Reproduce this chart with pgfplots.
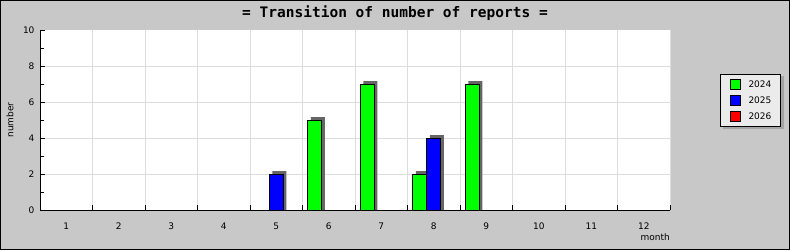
\documentclass[border=0pt]{standalone}
\usepackage{pgfplots}
\pgfplotsset{compat=1.18}
\usepackage{fontspec}
\setmainfont{DejaVu Sans}
\newfontfamily\titlefont{DejaVu Sans Mono}
\definecolor{bggray}{RGB}{200,200,200}
\definecolor{gridgray}{RGB}{221,221,221}
\definecolor{shadowgray}{RGB}{102,102,102}
\definecolor{leggray}{RGB}{235,235,235}
\definecolor{legshadow}{RGB}{165,165,165}
\definecolor{c24}{RGB}{0,255,0}
\definecolor{c25}{RGB}{0,0,255}
\definecolor{c26}{RGB}{255,0,0}
\pgfplotsset{sqleg/.style={legend image code/.code={\draw[##1] (0pt,-5pt) rectangle (10pt,5pt);}}}
\begin{document}
\begin{tikzpicture}
\fill[bggray] (0pt,0pt) rectangle (790pt,250pt);
\draw[black,line width=1pt] (0.5pt,0.5pt) rectangle (789.5pt,249.5pt);
\useasboundingbox (0pt,0pt) rectangle (790pt,250pt);
% legend shadow
\fill[legshadow] (722.5pt,121pt) rectangle (783.5pt,174pt);
\node[font=\titlefont\bfseries\fontsize{14.5}{16}\selectfont] at (395pt,237pt) {= Transition of number of reports =};
\begin{axis}[
  at={(40pt,40pt)}, anchor=south west,
  scale only axis, width=630pt, height=180pt,
  xmin=0.5, xmax=12.5, ymin=0, ymax=10,
  axis lines=left, axis line style={-, line width=1pt, black},
  axis background/.style={fill=white},
  tick align=inside,
  major tick length=5pt, minor tick length=4pt,
  every tick/.style={black, line width=1pt},
  xtick={0.5,1.5,...,12.5}, xticklabels={1,2,3,4,5,6,7,8,9,10,11,12},
  x tick label as interval,
  ytick={0,2,4,6,8}, extra y ticks={10}, extra y tick style={grid=none},
  minor ytick={1,3,5,7,9},
  xmajorgrids, ymajorgrids, major grid style={gridgray, line width=1pt},
  bar width=14pt,
  /pgf/number format/assume math mode=true,
  tick label style={font=\fontsize{9}{10}\selectfont},
  yticklabel style={xshift=-2pt},
  xticklabel style={yshift=-9pt},
  xlabel={month}, ylabel={number},
  label style={font=\fontsize{9}{10}\selectfont},
  xlabel style={at={(axis description cs:1,0)}, anchor=north east, yshift=-23pt, inner sep=0pt},
  ylabel style={at={(axis description cs:0,0.5)}, anchor=center, yshift=30pt},
  legend style={at={(719.5pt-40pt,176.5pt-40pt)}, anchor=north west,
    draw=black, line width=1pt, fill=leggray, font=\fontsize{9}{10}\selectfont,
    inner xsep=9.5pt, inner ysep=4.5pt, row sep=5pt, column sep=8pt,
    nodes={inner sep=0pt, text height=7pt, text depth=0pt}},
  legend cell align=left,
]
\addplot[ybar, forget plot, fill=shadowgray, draw=none, bar shift=-11pt, y filter/.expression={y+0.1667}]
  coordinates {(6,5) (7,7) (8,2) (9,7)};
\addplot[ybar, forget plot, fill=shadowgray, draw=none, bar shift=3pt, y filter/.expression={y+0.1667}]
  coordinates {(5,2) (8,4)};
\addplot[ybar, fill=c24, draw=black, line width=1pt, bar shift=-14pt, sqleg]
  coordinates {(6,5) (7,7) (8,2) (9,7)};
\addlegendentry{2024}
\addplot[ybar, fill=c25, draw=black, line width=1pt, bar shift=0pt, sqleg]
  coordinates {(5,2) (8,4)};
\addlegendentry{2025}
\addlegendimage{fill=c26, draw=black, line width=1pt, sqleg}
\addlegendentry{2026}
\end{axis}
\end{tikzpicture}
\end{document}
